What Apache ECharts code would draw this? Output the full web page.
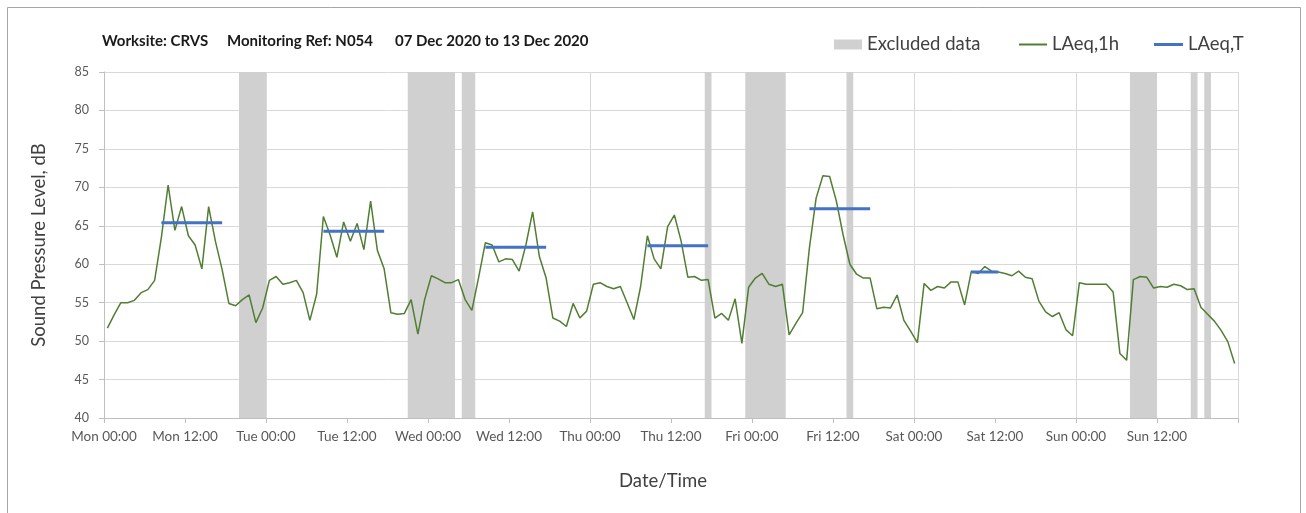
<!DOCTYPE html>
<html>
<head>
<meta charset="utf-8">
<title>CRVS N054 noise</title>
<script src="https://cdn.jsdelivr.net/npm/echarts@6/dist/echarts.min.js"></script>
<style>
  html, body { margin: 0; padding: 0; background: #fff; }
  #main { width: 1306px; height: 513px; }
</style>
</head>
<body>
<div id="main"></div>
<script>
// hourly LAeq,1h values, Mon 00:00 onwards (one per hour)
var laeq1h = [
  51.7, 53.4, 55.0, 55.0, 55.3, 56.3, 56.7, 57.9, 63.5, 70.3, 64.4, 67.5,
  63.7, 62.5, 59.4, 67.5, 63.0, 59.3, 54.9, 54.6, 55.4, 56.0, 52.4, 54.3,
  57.9, 58.4, 57.4, 57.6, 57.9, 56.3, 52.7, 56.1, 66.2, 63.8, 60.9, 65.5,
  63.0, 65.3, 61.9, 68.2, 61.8, 59.4, 53.7, 53.5, 53.6, 55.4, 50.9, 55.4,
  58.5, 58.1, 57.6, 57.6, 58.0, 55.4, 54.0, 58.3, 62.8, 62.5, 60.3, 60.7,
  60.6, 59.1, 62.5, 66.8, 61.0, 58.2, 53.0, 52.6, 51.9, 54.9, 53.0, 53.9,
  57.4, 57.6, 57.1, 56.8, 57.1, 55.0, 52.8, 57.1, 63.7, 60.7, 59.4, 64.9,
  66.4, 63.0, 58.3, 58.4, 57.9, 58.0, 53.0, 53.6, 52.7, 55.5, 49.7, 57.0,
  58.2, 58.8, 57.4, 57.1, 57.4, 50.8, 52.3, 53.7, 62.1, 68.6, 71.5, 71.4,
  68.2, 63.8, 60.0, 58.7, 58.2, 58.2, 54.2, 54.4, 54.3, 56.0, 52.7, 51.3,
  49.8, 57.5, 56.6, 57.1, 56.9, 57.7, 57.7, 54.7, 59.1, 58.8, 59.7, 59.1,
  59.0, 58.8, 58.5, 59.1, 58.3, 58.1, 55.2, 53.8, 53.2, 53.7, 51.5, 50.7,
  57.6, 57.4, 57.4, 57.4, 57.4, 56.4, 48.4, 47.5, 58.0, 58.4, 58.3, 56.9,
  57.1, 57.0, 57.4, 57.2, 56.7, 56.8, 54.4, 53.5, 52.6, 51.4, 49.9, 47.1
];

// LAeq,T periods: start hour, end hour, level
var periodStart = [8.5, 32.5, 56.5, 80.5, 104.5, 128.5];
var periodEnd   = [17.5, 41.5, 65.5, 89.5, 113.5, 132.5];
var periodLevel = [65.4, 64.3, 62.2, 62.4, 67.2, 59.0];

// excluded data bands (hours from Mon 00:00)
var excludedFrom = [20, 45, 53, 89, 95, 110, 152, 161, 163];
var excludedTo   = [24, 52, 55, 90, 101, 111, 156, 162, 164];

var tickLabels = [
  'Mon 00:00', 'Mon 12:00', 'Tue 00:00', 'Tue 12:00', 'Wed 00:00', 'Wed 12:00',
  'Thu 00:00', 'Thu 12:00', 'Fri 00:00', 'Fri 12:00', 'Sat 00:00', 'Sat 12:00',
  'Sun 00:00', 'Sun 12:00', ''
];

document.addEventListener('DOMContentLoaded', function() {
  var myChart = echarts.init(document.getElementById('main'));

  var lineData = laeq1h.map(function(v, i) { return [i + 0.5, v]; });

  var periodData = [];
  for (var p = 0; p < periodStart.length; p++) {
    periodData.push([periodStart[p], periodLevel[p]]);
    periodData.push([periodEnd[p], periodLevel[p]]);
    periodData.push([periodEnd[p], '-']);
  }

  var bands = excludedFrom.map(function(f, i) {
    return [{ xAxis: f }, { xAxis: excludedTo[i] }];
  });

  var font = 'Lato, "Open Sans", sans-serif';
  var titleStyle = { fontFamily: font, fontSize: 15, fontWeight: 'bold', color: '#1a1a1a' };
  var legendText = { fontFamily: font, fontSize: 18.5, color: '#404040' };

  var option = {
    animation: false,
    textStyle: { fontFamily: font },
    title: [
      { text: 'Worksite: CRVS', left: 102, top: 34, padding: 0, textStyle: titleStyle },
      { text: 'Monitoring Ref: N054', left: 227, top: 34, padding: 0, textStyle: titleStyle },
      { text: '07 Dec 2020 to 13 Dec 2020', left: 395, top: 34, padding: 0, textStyle: titleStyle }
    ],
    graphic: [{
      type: 'rect',
      shape: { x: 7.5, y: 7.5, width: 1293, height: 520 },
      style: { fill: 'none', stroke: '#a6a6a6', lineWidth: 1 },
      silent: true
    }],
    legend: [
      {
        data: ['Excluded data'], left: 834, top: 35, padding: 0, icon: 'rect',
        itemWidth: 28, itemHeight: 10, textStyle: legendText
      },
      {
        data: ['LAeq,1h'], left: 1019, top: 35, padding: 0, icon: 'rect',
        itemWidth: 28, itemHeight: 2, textStyle: legendText
      },
      {
        data: ['LAeq,T'], left: 1154, top: 35, padding: 0, icon: 'rect',
        itemWidth: 29, itemHeight: 3, textStyle: legendText
      }
    ],
    grid: { left: 104, right: 68, top: 72, bottom: 95 },
    xAxis: [
      {
        type: 'value', min: 0, max: 168, interval: 12,
        name: 'Date/Time', nameLocation: 'middle', nameGap: 54,
        nameTextStyle: { fontSize: 18.5, color: '#404040', fontFamily: font, padding: [0, 16, 0, 0] },
        axisLine: { lineStyle: { color: '#bfbfbf' } },
        axisTick: { show: true, length: 5, lineStyle: { color: '#bfbfbf' } },
        axisLabel: {
          fontSize: 13.5, color: '#595959', margin: 12, fontFamily: font,
          formatter: function(v) { return tickLabels[Math.round(v / 12)]; }
        },
        splitLine: { show: false }
      },
      {
        type: 'value', min: 0, max: 168, interval: 24, position: 'bottom',
        axisLine: { show: false }, axisTick: { show: false }, axisLabel: { show: false },
        splitLine: { show: true, lineStyle: { color: '#d9d9d9', width: 1 } }
      }
    ],
    yAxis: {
      type: 'value', min: 40, max: 85, interval: 5,
      name: 'Sound Pressure Level, dB', nameLocation: 'middle', nameGap: 55,
      nameTextStyle: { fontSize: 18.5, color: '#404040', fontFamily: font },
      axisLine: { show: true, lineStyle: { color: '#bfbfbf' } },
      axisTick: { show: true, length: 5, lineStyle: { color: '#bfbfbf' } },
      axisLabel: { fontSize: 12.5, color: '#595959', margin: 15, fontFamily: font },
      splitLine: { lineStyle: { color: '#d9d9d9', width: 1 } }
    },
    series: [
      {
        name: 'Excluded data', type: 'line', data: [], z: 1,
        itemStyle: { color: '#d0d0d0' },
        lineStyle: { color: '#d0d0d0' },
        markArea: {
          silent: true,
          itemStyle: { color: '#d0d0d0' },
          data: bands
        }
      },
      {
        name: 'LAeq,1h', type: 'line', data: lineData, z: 3,
        showSymbol: false, symbol: 'none',
        itemStyle: { color: '#507e32' },
        lineStyle: { color: '#507e32', width: 1.5 }
      },
      {
        name: 'LAeq,T', type: 'line', data: periodData, z: 4,
        showSymbol: false, symbol: 'none', connectNulls: false,
        itemStyle: { color: '#4472c4' },
        lineStyle: { color: '#4472c4', width: 3 }
      }
    ]
  };

  myChart.setOption(option);
});
</script>
</body>
</html>
